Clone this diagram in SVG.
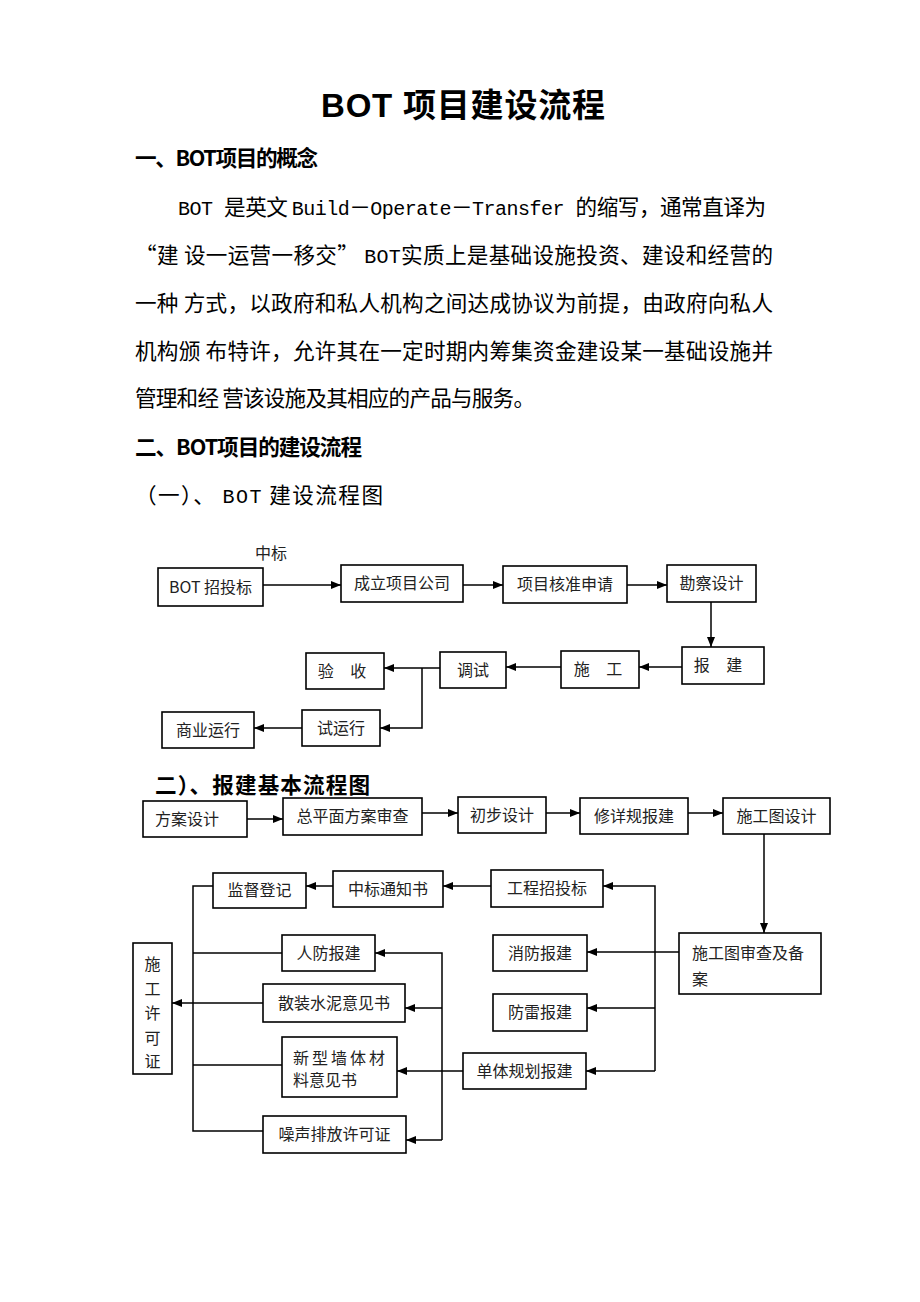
<svg xmlns="http://www.w3.org/2000/svg" width="920" height="1302" viewBox="0 0 920 1302">
<style>
.bg{fill:#fff}
.t{font-family:"Noto Sans CJK SC","Noto Sans",sans-serif;fill:#000}
.lat{font-family:"Liberation Mono",monospace;font-size:20px}
.body{font-size:21.6px}
.h{font-size:21.6px;font-weight:bold}
.title{font-size:33px;font-weight:bold;font-family:"Liberation Sans","Noto Sans CJK SC",sans-serif}
.box{fill:#fff;stroke:#000;stroke-width:1.6}
.bt{font-family:"Noto Sans CJK SC","Noto Sans",sans-serif;font-size:16px;fill:#222;text-anchor:middle}
.bl{font-family:"Noto Sans CJK SC","Noto Sans",sans-serif;font-size:16px;fill:#222}
.sp{word-spacing:13px}
.c{fill:none;stroke:#000;stroke-width:1.5}
.a{marker-end:url(#ah)}
</style>
<defs>
<marker id="ah" markerWidth="10" markerHeight="8" refX="10" refY="4" orient="auto" markerUnits="userSpaceOnUse">
<path d="M0,0 L10,4 L0,8 z" fill="#000"/>
</marker>
</defs>
<rect class="bg" width="920" height="1302"/>

<g id="text">
<text class="title" x="321" y="117" textLength="284">BOT 项目建设流程</text>
<text class="t h" x="135" y="166" textLength="183">一、BOT项目的概念</text>
<text class="t body" x="178" y="215" textLength="588"><tspan class="lat">BOT </tspan>是英文 <tspan class="lat">Build</tspan>－<tspan class="lat">Operate</tspan>－<tspan class="lat">Transfer </tspan>的缩写，通常直译为</text>
<text class="t body" x="135" y="263" textLength="638">“建 设一运营一移交” <tspan class="lat">BOT</tspan>实质上是基础设施投资、建设和经营的</text>
<text class="t body" x="135" y="311" textLength="638">一种 方式，以政府和私人机构之间达成协议为前提，由政府向私人</text>
<text class="t body" x="135" y="359" textLength="638">机构颁 布特许，允许其在一定时期内筹集资金建设某一基础设施并</text>
<text class="t body" x="135" y="406" textLength="400">管理和经 营该设施及其相应的产品与服务。</text>
<text class="t h" x="135" y="455" textLength="227">二、BOT项目的建设流程</text>
<text class="t body" x="135" y="503" textLength="248">（一）、 <tspan class="lat">BOT</tspan> 建设流程图</text>
<text class="t h" x="155" y="793" textLength="215">二）、报建基本流程图</text>
</g>

<g id="connectors">
<path class="c a" d="M263,585 H341"/>
<path class="c a" d="M463,585 H503"/>
<path class="c a" d="M627,585 H667"/>
<path class="c a" d="M711,602 V647"/>
<path class="c a" d="M682,667 H639"/>
<path class="c a" d="M561,667 H506"/>
<path class="c a" d="M440,668 H384"/>
<path class="c a" d="M422,668 V728 H380"/>
<path class="c a" d="M302,728 H254"/>

<path class="c a" d="M247,819 H283"/>
<path class="c a" d="M422,813 H458"/>
<path class="c a" d="M546,813 H580"/>
<path class="c a" d="M688,813 H723"/>
<path class="c a" d="M764,834 V933"/>
<path class="c a" d="M679,952 H587"/>
<path class="c a" d="M655,1071 V886 H603"/>
<path class="c a" d="M655,1008 H587"/>
<path class="c a" d="M655,1071 H586"/>
<path class="c a" d="M491,886 H443"/>
<path class="c a" d="M333,886 H306"/>
<path class="c" d="M213,886 H193 V1131 H263"/>
<path class="c" d="M193,953 H282"/>
<path class="c" d="M193,1065 H282"/>
<path class="c a" d="M263,1003 H172"/>
<path class="c" d="M463,1071 H442"/>
<path class="c a" d="M442,1140 V953 H375"/>
<path class="c a" d="M442,1008 H405"/>
<path class="c a" d="M442,1071 H397"/>
<path class="c a" d="M442,1140 H406"/>
</g>

<text class="bl" x="255" y="559">中标</text>

<g id="n-bot"><rect class="box" x="158" y="568" width="105" height="38"/><text class="bt" x="210.5" y="593" font-family="Liberation Sans,Noto Sans CJK SC,sans-serif">BOT 招投标</text></g>
<g id="n-gs"><rect class="box" x="341" y="565" width="122" height="37"/><text class="bt" x="402" y="589">成立项目公司</text></g>
<g id="n-hz"><rect class="box" x="503" y="566" width="124" height="37"/><text class="bt" x="565" y="590">项目核准申请</text></g>
<g id="n-kc"><rect class="box" x="667" y="565" width="89" height="37"/><text class="bt" x="711.5" y="589">勘察设计</text></g>
<g id="n-bj"><rect class="box" x="682" y="647" width="82" height="37"/><text class="bt sp" x="718" y="671">报 建</text></g>
<g id="n-sg"><rect class="box" x="561" y="651" width="78" height="37"/><text class="bt sp" x="598" y="675">施 工</text></g>
<g id="n-ts"><rect class="box" x="440" y="652" width="66" height="36"/><text class="bt" x="473" y="676">调试</text></g>
<g id="n-ys"><rect class="box" x="306" y="653" width="78" height="36"/><text class="bt sp" x="342" y="677">验 收</text></g>
<g id="n-syx"><rect class="box" x="302" y="710" width="78" height="36"/><text class="bt" x="341" y="734">试运行</text></g>
<g id="n-syyx"><rect class="box" x="162" y="712" width="92" height="36"/><text class="bt" x="208" y="736">商业运行</text></g>

<g id="m-fa"><rect class="box" x="143" y="801" width="104" height="36"/><text class="bt" x="187" y="825">方案设计</text></g>
<g id="m-zpm"><rect class="box" x="283" y="798" width="139" height="37"/><text class="bt" x="352.5" y="822">总平面方案审查</text></g>
<g id="m-cb"><rect class="box" x="458" y="797" width="88" height="36"/><text class="bt" x="502" y="821">初步设计</text></g>
<g id="m-xx"><rect class="box" x="580" y="798" width="108" height="36"/><text class="bt" x="634" y="822">修详规报建</text></g>
<g id="m-sgt"><rect class="box" x="723" y="798" width="107" height="36"/><text class="bt" x="776.5" y="822">施工图设计</text></g>
<g id="m-sc"><rect class="box" x="679" y="933" width="142" height="61"/><text class="bl" x="692" y="959">施工图审查及备</text><text class="bl" x="692" y="985">案</text></g>
<g id="m-gczb"><rect class="box" x="491" y="870" width="112" height="37"/><text class="bt" x="547" y="894">工程招投标</text></g>
<g id="m-zbtz"><rect class="box" x="333" y="871" width="110" height="36"/><text class="bt" x="388" y="895">中标通知书</text></g>
<g id="m-jd"><rect class="box" x="213" y="873" width="93" height="35"/><text class="bt" x="259.5" y="896">监督登记</text></g>
<g id="m-xf"><rect class="box" x="493" y="935" width="94" height="36"/><text class="bt" x="540" y="959">消防报建</text></g>
<g id="m-fl"><rect class="box" x="493" y="994" width="94" height="37"/><text class="bt" x="540" y="1018">防雷报建</text></g>
<g id="m-dt"><rect class="box" x="463" y="1053" width="123" height="36"/><text class="bt" x="524.5" y="1077">单体规划报建</text></g>
<g id="m-rf"><rect class="box" x="282" y="935" width="93" height="36"/><text class="bt" x="328.5" y="959">人防报建</text></g>
<g id="m-sz"><rect class="box" x="263" y="984" width="142" height="38"/><text class="bt" x="334" y="1009">散装水泥意见书</text></g>
<g id="m-xq"><rect class="box" x="282" y="1037" width="115" height="60"/><text class="bl" x="293" y="1064" letter-spacing="3">新型墙体材</text><text class="bl" x="293" y="1086">料意见书</text></g>
<g id="m-zs"><rect class="box" x="263" y="1116" width="143" height="37"/><text class="bt" x="334.5" y="1140">噪声排放许可证</text></g>
<g id="m-xk"><rect class="box" x="133" y="943" width="39" height="131"/>
<text class="bt" x="152.5" y="970">施</text><text class="bt" x="152.5" y="995">工</text><text class="bt" x="152.5" y="1019">许</text><text class="bt" x="152.5" y="1044">可</text><text class="bt" x="152.5" y="1067">证</text></g>
</svg>
